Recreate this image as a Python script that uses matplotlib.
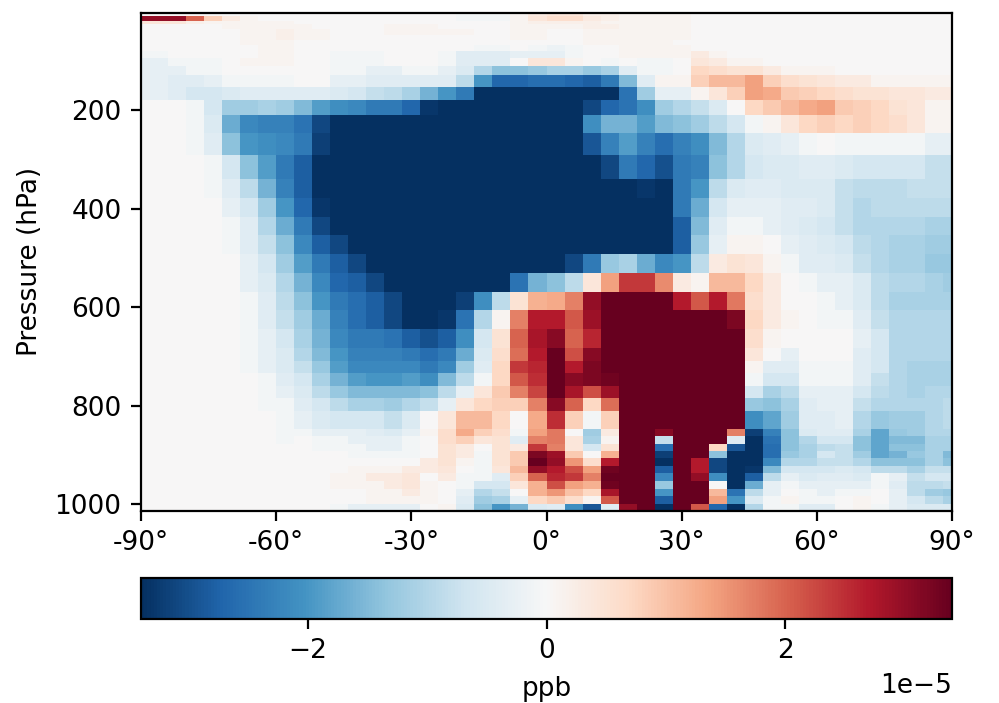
import numpy as np
import matplotlib
matplotlib.use("Agg")
import matplotlib.pyplot as plt

plt.rcParams['font.size'] = 9.5

lat_centers = list(range(-90, 91, 4))
pressure_edges = [2, 9, 19, 25, 36, 48, 58, 68, 80, 95, 111, 129, 153, 180, 210, 246, 291, 340, 378, 417, 454, 492,
                  531, 569, 606, 645, 683, 709, 734, 760, 785, 810, 848, 862, 877, 892, 907, 923, 937, 953, 969, 984,
                  1000, 1013]
lat_ticks = [-90, -60, -30, 0, 30, 60, 90]
lat_labels = ['-90°', '-60°', '-30°', '0°', '30°', '60°', '90°']
pressure_ticks = [200, 400, 600, 800, 1000]
cbar_ticks = [-2e-5, 0, 2e-5]
color_limit = 3.4e-5

# difference, units of 1e-6 ppb, top of the atmosphere first
diff = [
    [0,0,0,0,0,0,0,0,0,0, 0,0,0,0,0,0,0,0,-1,-1, -1,1,3,4,4,2,2,1,1,1, 1,0,0,0,0,0,0,0,0,0, 0,0,0,0,0,0],
    [30,30,30,20,8,3,1,0,0,0, 0,0,0,0,0,0,0,0,-1,-1, -1,1,4,6,6,3,2,1,1,1, 1,0,0,0,0,0,0,0,0,0, 0,0,0,0,0,0],
    [4,4,4,2,1,1,1,1,1,0, 0,0,0,0,0,0,0,0,0,0, 0,1,2,2,2,2,1,1,1,1, 1,0,0,0,0,0,0,0,0,0, 0,0,0,0,0,0],
    [0,0,0,0,0,1,1,1,1,1, 0,0,0,0,1,1,1,0,0,0, 0,1,1,1,1,2,2,1,1,1, 1,0,0,0,0,0,0,0,0,0, 0,0,0,0,0,0],
    [0,0,0,0,0,0,1,1,2,1, 1,0,0,0,1,1,1,1,1,0, 0,1,1,0,0,1,1,1,1,1, 1,0,0,0,0,0,0,0,0,0, 0,0,0,0,0,0],
    [0,0,0,0,0,0,1,1,2,1, 1,0,0,0,0,0,0,0,0,0, 0,1,1,0,0,1,1,1,1,1, 1,0,0,0,0,0,0,0,0,0, 0,0,0,0,0,0],
    [0,0,0,0,0,0,1,1,1,0, 0,0,0,0,0,0,0,0,0,0, 0,0,0,0,0,1,1,1,1,1, 0,0,0,0,0,0,0,0,0,0, 0,0,0,0,0,0],
    [0,0,0,0,0,0,0,1,1,0, 0,0,0,0,0,0,0,0,0,-1, -1,0,-1,-2,-1,0,0,1,1,1, 1,0,0,0,0,0,0,0,0,0, 0,0,0,0,0,0],
    [-1,-1,0,0,0,0,0,1,1,0, 0,-1,-1,-1,0,0,0,-1,-4,-4, -4,-3,-3,-3,-1,0,0,1,1,1, 1,3,1,0,0,0,0,0,0,0, 0,0,0,0,0,0],
    [-3,-3,-1,-1,-1,0,1,1,1,0, 0,-1,-1,-1,0,0,0,-1,-4,-4, -4,0,4,4,1,0,-1,0,-1,-1, 0,4,3,1,1,0,0,0,0,0, 0,0,0,0,0,0],
    [-3,-3,-3,-1,-1,0,0,0,0,0, 0,-1,-1,-3,-3,-1,-1,-3,-5,-10, -14,-14,-13,-11,-11,-13,-11,-4,-1,-1, 0,7,6,5,5,3,1,1,1,0, 0,0,0,0,0,0],
    [-3,-3,-4,-4,-3,-1,-1,-1,-1,0, 0,-3,-3,-4,-4,-4,-4,-4,-9,-20, -27,-27,-26,-26,-27,-28,-24,-15,-4,1, 1,8,11,11,14,8,6,5,4,3, 3,1,1,1,1,1],
    [-3,-3,-4,-6,-6,-5,-4,-4,-4,-4, -4,-5,-6,-8,-9,-11,-16,-20,-24,-34, -34,-34,-34,-34,-34,-34,-34,-25,-12,-3, -3,1,4,8,14,13,9,8,7,6, 5,5,4,4,3,3],
    [0,0,0,-1,-6,-12,-12,-11,-12,-15, -19,-21,-22,-24,-24,-27,-33,-34,-34,-34, -34,-34,-34,-34,-34,-31,-27,-25,-21,-12, -10,-8,-5,0,7,9,11,13,14,9, 8,7,5,4,1,1],
    [0,0,0,-1,-5,-17,-22,-23,-23,-25, -31,-34,-34,-34,-34,-34,-34,-34,-34,-34, -34,-34,-34,-34,-34,-21,-16,-16,-19,-15, -14,-12,-9,-6,-1,1,4,7,8,7, 8,7,6,4,1,1],
    [0,0,0,-1,-4,-14,-20,-21,-22,-24, -32,-34,-34,-34,-34,-34,-34,-34,-34,-34, -34,-34,-34,-34,-34,-29,-23,-19,-23,-26, -23,-21,-15,-10,-5,-4,-3,-1,0,-1, -1,-1,-1,-1,-3,-3],
    [0,0,0,0,-1,-6,-14,-19,-24,-28, -34,-34,-34,-34,-34,-34,-34,-34,-34,-34, -34,-34,-34,-34,-34,-34,-31,-24,-27,-30, -24,-23,-14,-10,-6,-5,-5,-4,-4,-5, -6,-6,-6,-6,-8,-8],
    [0,0,0,0,-1,-4,-9,-16,-23,-28, -34,-34,-34,-34,-34,-34,-34,-34,-34,-34, -34,-34,-34,-34,-34,-34,-34,-34,-33,-34, -24,-20,-9,-5,-4,-4,-5,-5,-5,-8, -9,-9,-9,-8,-8,-8],
    [0,0,0,0,0,-3,-6,-12,-20,-27, -33,-34,-34,-34,-34,-34,-34,-34,-34,-34, -34,-34,-34,-34,-34,-34,-34,-34,-34,-34, -24,-17,-6,-3,-3,-3,-4,-4,-5,-8, -10,-9,-9,-9,-9,-9],
    [0,0,0,0,0,-1,-4,-10,-17,-24, -31,-34,-34,-34,-34,-34,-34,-34,-34,-34, -34,-34,-34,-34,-34,-34,-34,-34,-34,-34, -28,-15,-4,-1,-1,-3,-4,-5,-6,-8, -10,-10,-10,-10,-11,-11],
    [0,0,0,0,0,-1,-4,-8,-14,-22, -28,-31,-34,-34,-34,-34,-34,-34,-34,-34, -34,-34,-34,-34,-34,-34,-34,-34,-34,-34, -28,-13,-3,1,1,0,-3,-4,-5,-6, -9,-10,-11,-11,-12,-12],
    [0,0,0,0,0,0,-3,-6,-12,-19, -24,-28,-31,-34,-34,-34,-34,-34,-34,-34, -34,-34,-34,-34,-31,-24,-13,-11,-17,-22, -20,-9,3,5,4,1,-1,-4,-4,-5, -8,-10,-11,-11,-13,-13],
    [0,0,0,0,0,0,-3,-5,-10,-16, -22,-27,-28,-31,-34,-34,-34,-34,-34,-34, -34,-25,-16,-14,-9,4,14,24,24,16, 3,1,11,11,7,3,0,-1,-3,-3, -5,-9,-10,-10,-11,-12],
    [0,0,0,0,0,0,-1,-4,-9,-14, -20,-24,-26,-28,-31,-34,-34,-34,-32,-21, -9,5,12,13,17,30,34,34,34,34, 27,21,27,18,6,3,0,0,-1,-3, -5,-9,-11,-11,-11,-11],
    [0,0,0,0,0,0,-1,-4,-8,-12, -17,-23,-26,-28,-31,-34,-34,-33,-25,-10, 1,17,27,27,21,29,34,34,34,34, 34,34,34,32,7,3,1,0,-1,-1, -4,-8,-10,-10,-10,-10],
    [0,0,0,0,0,0,-1,-3,-6,-11, -16,-22,-24,-24,-25,-28,-30,-28,-21,-6, 5,20,28,31,20,26,34,34,34,34, 34,34,34,34,6,1,0,0,0,0, -3,-6,-10,-10,-10,-10],
    [0,0,0,0,0,0,-1,-3,-5,-10, -15,-20,-23,-23,-23,-24,-26,-24,-17,-5, 6,19,27,34,22,31,34,34,34,34, 34,34,34,34,4,0,-3,0,0,0, -4,-6,-10,-10,-10,-10],
    [0,0,0,0,0,0,-1,-3,-5,-8, -13,-19,-22,-22,-22,-22,-24,-22,-12,-4, 7,24,26,34,27,32,34,34,34,34, 34,34,34,34,1,-4,-4,-1,-1,-1, -4,-6,-10,-11,-11,-11],
    [0,0,0,0,0,0,0,-1,-4,-6, -11,-16,-19,-20,-20,-19,-21,-15,-9,-1, 7,21,25,34,31,32,33,34,34,34, 34,34,34,34,-1,-6,-6,-1,-1,-1, -4,-8,-10,-11,-11,-11],
    [0,0,0,0,0,0,0,-1,-3,-5, -9,-13,-15,-15,-15,-15,-14,-9,-3,4, 9,17,23,34,28,22,29,34,34,34, 34,34,34,34,-6,-11,-9,-3,-3,-3, -6,-9,-10,-11,-10,-10],
    [0,0,0,0,0,0,0,-1,-1,-4, -6,-9,-11,-11,-12,-10,-8,-3,4,7, 8,8,17,31,20,7,19,34,34,34, 34,34,34,34,-13,-14,-11,-4,-3,-3, -8,-10,-10,-10,-10,-9],
    [0,0,0,0,0,0,0,0,-1,-3, -5,-6,-6,-6,-8,-5,0,4,11,11, 7,0,13,25,8,-1,8,34,34,34, 34,34,34,34,-21,-18,-12,-4,-4,-3, -10,-13,-12,-12,-10,-9],
    [0,0,0,0,0,0,0,0,-1,-1, -3,-3,-3,-4,-5,-3,1,6,13,8, 6,-1,14,18,0,-12,3,34,34,31, 34,34,34,17,-32,-23,-14,-5,-4,-4, -11,-18,-13,-12,-10,-10],
    [0,0,0,0,0,0,0,0,-1,0, -1,-1,-3,-3,-3,-1,0,6,8,4, 5,-4,17,18,4,-11,1,34,34,-8, 34,34,34,-4,-34,-25,-14,-10,-6,-6, -14,-18,-15,-15,-11,-11],
    [0,0,0,0,0,0,0,0,0,0, -1,-1,-1,-3,-3,-1,0,5,3,0, 5,3,24,17,4,-6,5,34,34,-26, 34,34,7,-29,-34,-26,-14,-11,-9,-8, -14,-18,-14,-14,-11,-11],
    [0,0,0,0,0,0,0,0,0,0, 0,0,-1,-1,-1,-1,0,5,3,-1, 5,9,32,29,9,0,12,34,34,-32, 34,34,-14,-34,-34,-26,-13,-11,-6,-8, -12,-18,-16,-13,-11,-15],
    [0,0,0,0,0,0,0,0,0,0, 0,0,0,0,0,0,3,5,1,-1, 5,9,34,30,15,6,27,34,34,-34, 34,27,-31,-34,-34,-22,-10,-10,-8,-8, -10,-14,-14,-14,-11,-14],
    [0,0,0,0,0,0,0,0,0,0, 0,0,1,1,1,3,3,4,0,-1, 4,11,30,27,22,14,33,34,34,-28, 34,27,-31,-34,-33,-15,-6,-6,-6,-5, -6,-9,-9,-11,-8,-8],
    [0,0,0,0,0,0,0,0,0,0, 0,1,1,3,3,4,0,3,-1,-1, -4,8,20,26,24,17,34,34,34,-22, 34,30,-21,-34,-28,-9,-3,-5,-4,-4, -5,-1,-3,-8,-6,-6],
    [0,0,0,0,0,0,0,0,0,0, 0,1,1,1,3,4,1,0,-1,-6, -6,4,12,22,14,12,33,34,34,-13, 34,34,0,-34,-17,-3,-1,-3,-3,-3, -3,-1,-4,-9,-9,-8],
    [0,0,0,0,0,0,0,0,0,0, 0,0,0,1,1,3,1,0,-3,-10, -8,0,12,15,10,7,28,34,34,-20, 34,34,11,-25,-9,-3,0,-1,-3,-1, -1,0,-3,-9,-12,-13],
    [0,0,0,0,0,0,0,0,0,0, 0,0,0,1,1,1,1,0,-4,-12, -11,-3,7,9,6,1,21,34,34,-28, 34,34,14,-20,-5,-1,1,-1,-1,0, 1,0,-3,-6,-9,-11],
    [0,0,0,0,0,0,0,0,0,0, 0,-1,-3,-3,-3,-3,0,1,-5,-14, -20,-16,-5,-4,-21,-29,-4,30,34,-34, 34,21,-27,-34,-10,-1,-1,-4,-4,0, 1,-1,-3,-5,-5,-5],
]

values = np.array(diff) * 1e-6
lats = np.array(lat_centers)
lat_edges = np.append(lats - 2, lats[-1] + 2)

fig = plt.figure(figsize=(4.995, 3.515), dpi=200)
ax = fig.add_axes([141 / 999, 1 - 510.7 / 703, 811 / 999, 498.2 / 703])
mesh = ax.pcolormesh(lat_edges, pressure_edges, values, cmap='RdBu_r', vmin=-color_limit, vmax=color_limit)
ax.set_xlim(-90, 90)
ax.set_ylim(1013, 2)
ax.set_xticks(lat_ticks)
ax.set_xticklabels(lat_labels)
ax.set_yticks(pressure_ticks)
ax.set_ylabel('Pressure (hPa)')

# colorbar under the map
cax = fig.add_axes([141 / 999, 1 - 619 / 703, 811 / 999, 41 / 703])
cbar = fig.colorbar(mesh, cax=cax, orientation='horizontal')
cbar.set_ticks(cbar_ticks)
cbar.set_label('ppb')

plt.savefig('out.png', dpi=200)
